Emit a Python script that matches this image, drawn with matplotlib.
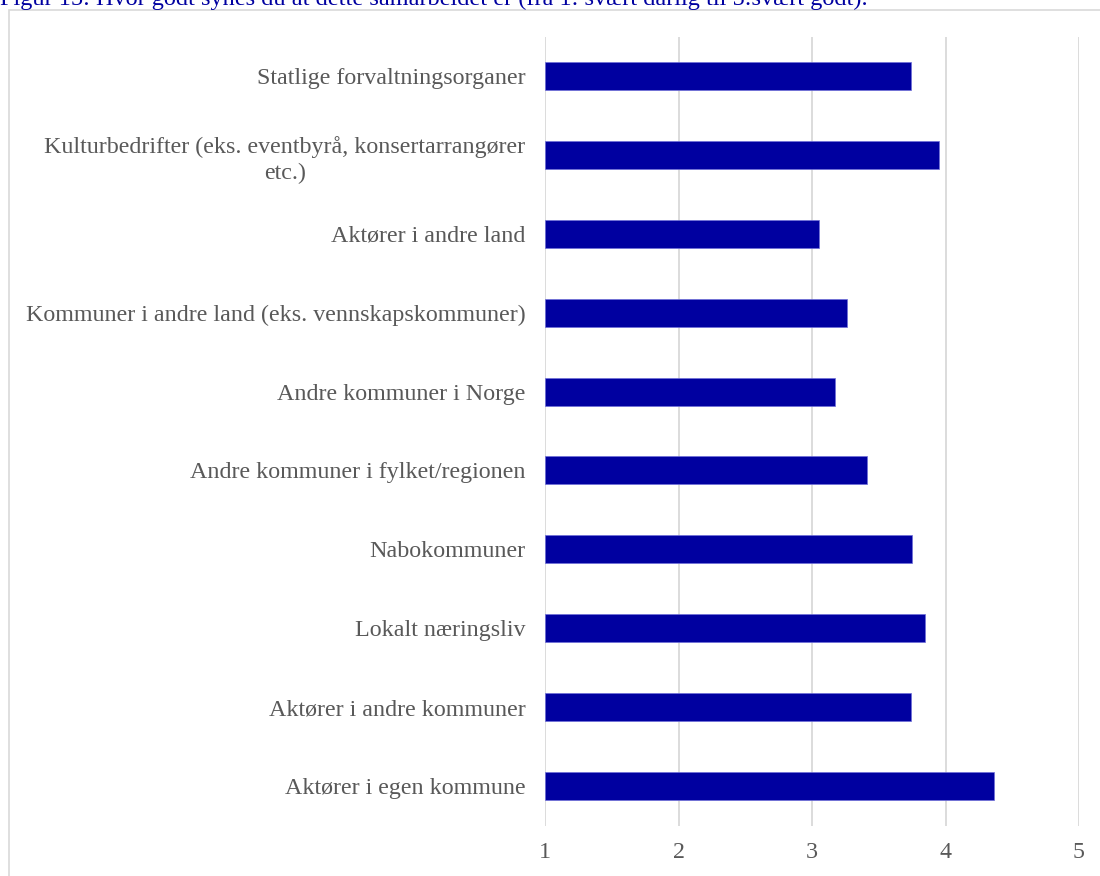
import numpy as np
import matplotlib.pyplot as plt
from matplotlib.patches import Rectangle

# categories, top to bottom
labels = ['Statlige forvaltningsorganer',
          'Kulturbedrifter (eks. eventbyrå, konsertarrangører\netc.)',
          'Aktører i andre land',
          'Kommuner i andre land (eks. vennskapskommuner)',
          'Andre kommuner i Norge',
          'Andre kommuner i fylket/regionen',
          'Nabokommuner',
          'Lokalt næringsliv',
          'Aktører i andre kommuner',
          'Aktører i egen kommune']
scores = [3.74, 3.95, 3.05, 3.26, 3.17, 3.41, 3.75, 3.85, 3.74, 4.36]
xticks = [1, 2, 3, 4, 5]

title = ('Figur 15: Hvor godt synes du at dette samarbeidet er '
         '(fra 1: svært dårlig til 5:svært godt).')

plt.rcParams['font.family'] = ['Liberation Serif', 'DejaVu Serif']

fig = plt.figure(figsize=(11, 8.76), dpi=100)

# chart frame (runs off the right and bottom edges)
fig.patches.append(Rectangle((8.5/1100, -0.05), 1.2, 1 - 9.5/876 + 0.05,
                             transform=fig.transFigure, fill=False,
                             edgecolor='#d9d9d9', linewidth=1.2))

# title is cut off at the top in the original
fig.text(0.0, 1 - 5.5/876, title, color='#0000a0', fontsize=17.5,
         ha='left', va='baseline')

ax = fig.add_axes([545/1100, 1 - 825.5/876, 534/1100, 789/876])
y = np.arange(len(labels))
ax.barh(y, np.array(scores) - 1, left=1, height=0.355,
        color='#0000a0', edgecolor='#6f6fd8', linewidth=0.5, zorder=3)

ax.set_xlim(1, 5)
ax.set_ylim(len(labels) - 0.5, -0.5)
ax.set_xticks(xticks)
ax.set_xticklabels([str(t) for t in xticks])
ax.set_yticks(y)
ax.set_yticklabels(labels, ha='right', multialignment='center')
for lab in ax.get_yticklabels():
    lab.set_linespacing(1.3)
ax.tick_params(axis='both', length=0, labelsize=17.3, labelcolor='#595959')
ax.tick_params(axis='y', pad=14)
ax.tick_params(axis='x', pad=12)
ax.grid(axis='x', color='#d9d9d9', linewidth=1.3, zorder=0)
for s in ax.spines.values():
    s.set_visible(False)

fig.savefig('out.png', dpi=100)
